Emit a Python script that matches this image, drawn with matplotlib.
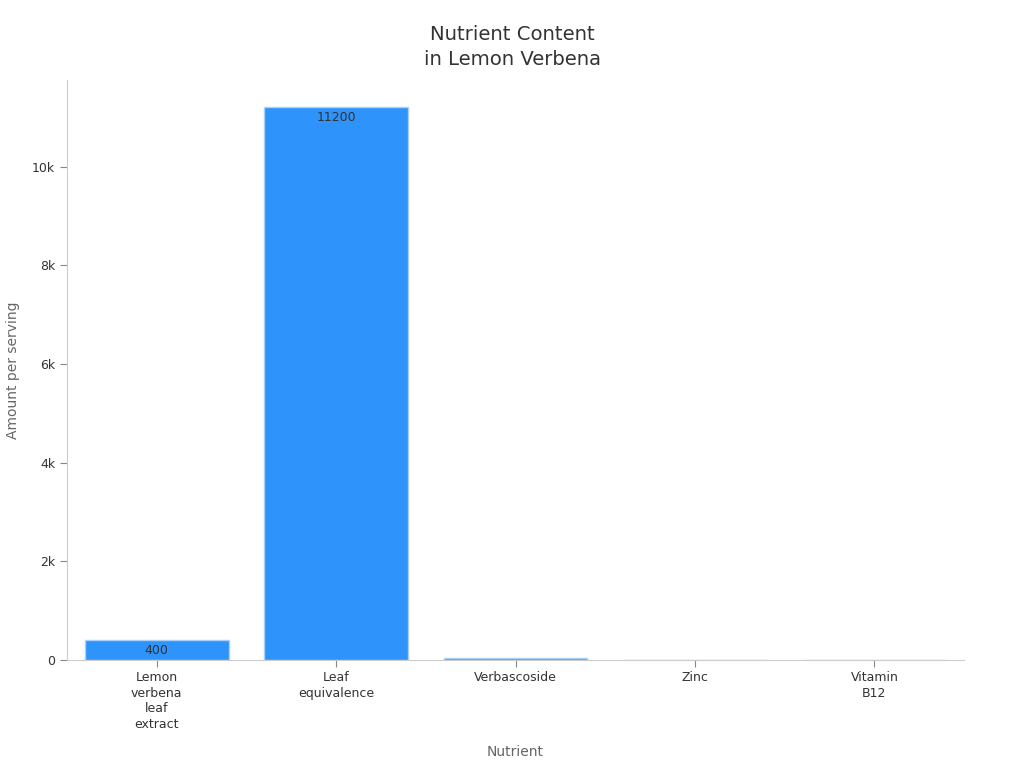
import matplotlib
matplotlib.use("Agg")
import matplotlib.pyplot as plt
from matplotlib.ticker import FuncFormatter

categories = ["Lemon\nverbena\nleaf\nextract", "Leaf\nequivalence", "Verbascoside", "Zinc", "Vitamin\nB12"]
values = [400, 11200, 48, 5, 0.0024]
labels = ["400", "11200", "", "", ""]

plt.rcParams['font.family'] = ['DejaVu Sans']
fig = plt.figure(figsize=(10.24, 7.68), dpi=100)
ax = fig.add_axes([0.0655, 0.1406, 0.876, 0.7555])

bars = ax.bar(range(len(categories)), values, width=0.8, color="#2E93FA",
              edgecolor="#A8D0F8", linewidth=1)
ax.set_xlim(-0.5, len(categories) - 0.5)
ax.set_ylim(0, 11760)

for b, lab, v in zip(bars, labels, values):
    if lab:
        ax.text(b.get_x() + b.get_width() / 2, v - 80, lab, ha="center", va="top",
                fontsize=9, color="#333333")

ax.set_xticks(range(len(categories)))
ax.set_xticklabels(categories, fontsize=9, color="#333333", linespacing=1.25)
ax.set_yticks([0, 2000, 4000, 6000, 8000, 10000])
ax.yaxis.set_major_formatter(FuncFormatter(lambda v, p: "0" if v == 0 else f"{int(v/1000)}k"))
ax.tick_params(axis="y", labelsize=9, colors="#333333", color="#888888", length=5)
ax.tick_params(axis="x", color="#888888", length=5, pad=3)

for s in ["top", "right"]:
    ax.spines[s].set_visible(False)
for s in ["left", "bottom"]:
    ax.spines[s].set_color("#cccccc")

ax.set_xlabel("Nutrient", fontsize=10, color="#666666", labelpad=10)
ax.set_ylabel("Amount per serving", fontsize=10, color="#666666", labelpad=9)
fig.suptitle("Nutrient Content\nin Lemon Verbena", fontsize=14.1, color="#333333",
             y=0.968, linespacing=1.45)

fig.savefig("out.png", dpi=100)
